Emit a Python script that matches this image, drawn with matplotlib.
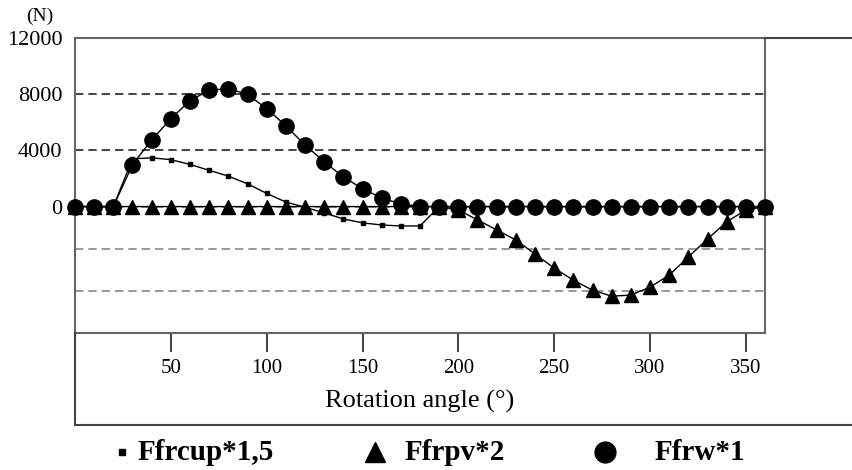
import numpy as np
import matplotlib
matplotlib.use("Agg")
from matplotlib import pyplot as plt
from matplotlib.lines import Line2D

plt.rcParams['font.family'] = ['Liberation Serif', 'DejaVu Serif']

angle = list(range(0, 361, 10))

# Ffrcup*1,5  (small squares)
ffrcup = [0, 0, 0, 3400, 3470, 3340, 3000, 2580, 2170, 1620, 940, 320, -50,
          -450, -880, -1160, -1310, -1380, -1380, 0, 0, 0, 0, 0, 0, 0, 0,
          0, 0, 0, 0, 0, 0, 0, 0, 0, 0]
# Ffrpv*2  (triangles)
ffrpv = [0, 0, 0, 0, 0, 0, 0, 0, 0, 0, 0, 0, 0, 0, 0, 0, 0, 0, 0, 0,
         -240, -950, -1660, -2380, -3380, -4380, -5240, -5950, -6380, -6300,
         -5740, -4880, -3590, -2310, -1090, -240, 0]
# Ffrw*1  (circles)
ffrw = [0, 0, 0, 2990, 4740, 6250, 7550, 8270, 8400, 7980, 6970, 5750, 4380,
        3200, 2100, 1280, 600, 200, 0, 0, 0, 0, 0, 0, 0, 0, 0, 0, 0, 0,
        0, 0, 0, 0, 0, 0, 0]

xticks = [50, 100, 150, 200, 250, 300, 350]
yticks = [0, 4000, 8000, 12000]
legend_labels = ["Ffrcup*1,5", "Ffrpv*2", "Ffrw*1"]

fig = plt.figure(figsize=(8.53, 4.70), dpi=100)
W, H = 853, 470
ax = fig.add_axes([75 / W, 1 - 333 / H, (765 - 75) / W, (333 - 38) / H])

ax.set_xlim(0, 360)
ax.set_ylim(-9000, 12000)

# grid lines
for g in [4000, 8000]:
    ax.axhline(g, color='#222222', lw=1.2, ls=(0, (5, 3)), zorder=1)
for g in [0, -3000, -6000]:
    ax.axhline(g, color='#888888', lw=1.2, ls=(0, (5, 3)), zorder=1)

ax.plot(angle, ffrcup, color='black', lw=1, marker='s', ms=3.5, clip_on=False, zorder=3)
ax.plot(angle, ffrpv, color='black', lw=1, marker='^', ms=9.5, clip_on=False, zorder=4)
ax.plot(angle, ffrw, color='black', lw=1, marker='o', ms=11, clip_on=False, zorder=5)

for s in ax.spines.values():
    s.set_color('#666666')
    s.set_linewidth(1.5)

ax.set_xticks(xticks)
ax.set_xticklabels([str(t) for t in xticks], fontsize=15)
ax.tick_params(axis='x', direction='out', length=14, width=1.3, color='#333333', pad=5)
ax.set_yticks(yticks)
ax.set_yticklabels([str(t) for t in yticks], fontsize=16)
ax.tick_params(axis='y', length=0, pad=9)

ax.set_xlabel("Rotation angle (°)", fontsize=19, labelpad=8)
fig.text(40 / W, 1 - 16 / H, "(N)", fontsize=14, ha='center', va='center')

# outer frame
frame_kw = dict(color='#444444', lw=1.5, transform=fig.transFigure)
fig.add_artist(Line2D([75 / W, 75 / W], [1 - 333 / H, 1 - 425 / H], **frame_kw))
fig.add_artist(Line2D([75 / W, 1.0], [1 - 425 / H, 1 - 425 / H], **frame_kw))
fig.add_artist(Line2D([765 / W, 1.0], [1 - 38 / H, 1 - 38 / H], **frame_kw))

# legend
ly = 1 - 452 / H
markers = [('s', 5, 122), ('^', 15, 375), ('o', 15, 605)]
text_x = [138, 405, 655]
for (m, ms, mx), tx, lab in zip(markers, text_x, legend_labels):
    fig.add_artist(Line2D([mx / W], [ly], marker=m, ms=ms, color='black',
                          transform=fig.transFigure))
    fig.text(tx / W, ly, lab, fontsize=21, fontweight='bold', ha='left', va='center')

fig.savefig("out.png", dpi=100)
